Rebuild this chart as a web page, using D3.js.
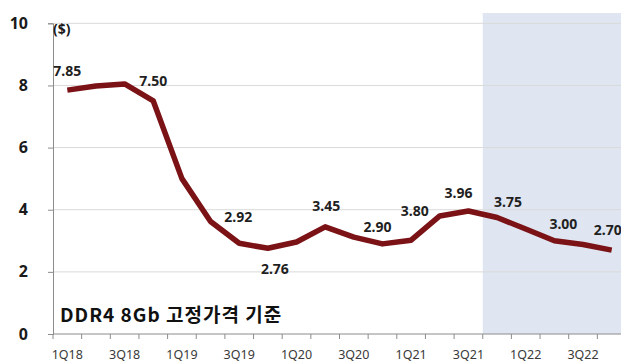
<!DOCTYPE html>
<html>
<head>
<meta charset="utf-8">
<script src="https://cdn.jsdelivr.net/npm/d3@7/dist/d3.min.js"></script>
<style>
  html, body { margin: 0; padding: 0; background: #fff; }
  svg { display: block; }
</style>
</head>
<body>
<svg id="chart" width="621" height="362"></svg>
<script>
// Quarterly DDR4 8Gb contract price, USD
const quarters = ["1Q18","2Q18","3Q18","4Q18","1Q19","2Q19","3Q19","4Q19",
                  "1Q20","2Q20","3Q20","4Q20","1Q21","2Q21","3Q21","4Q21",
                  "1Q22","2Q22","3Q22","4Q22"];
const prices = [7.85, 7.98, 8.05, 7.50, 5.00, 3.62, 2.92, 2.76,
                2.96, 3.45, 3.12, 2.90, 3.02, 3.80, 3.96, 3.75,
                3.38, 3.00, 2.88, 2.70];
// quarters whose value is printed next to the line
const labelledQuarters = ["1Q18","4Q18","3Q19","4Q19","2Q20","4Q20","2Q21","3Q21","4Q21","2Q22","4Q22"];
// forecast span
const forecastStart = "4Q21";
const yTicks = [0, 2, 4, 6, 8, 10];
const xTickLabels = ["1Q18","3Q18","1Q19","3Q19","1Q20","3Q20","1Q21","3Q21","1Q22","3Q22"];
const unitLabel = "($)";
const noteText = "DDR4 8Gb 고정가격 기준";

const svg = d3.select("#chart");
const plotLeft = 53, plotBottom = 334, plotTop = 23.3;
const bandW = 28.65;

const x = d3.scaleBand().domain(quarters).range([plotLeft, plotLeft + bandW * quarters.length]).padding(0);
const y = d3.scaleLinear().domain([0, 10]).range([plotBottom, plotTop]);
const cx = q => x(q) + x.bandwidth() / 2;

// forecast shading
svg.append("rect")
  .attr("x", x(forecastStart))
  .attr("y", 13)
  .attr("width", 621 - x(forecastStart))
  .attr("height", plotBottom - 13)
  .attr("fill", "#dfe6f1");

// horizontal gridlines
svg.append("g")
  .selectAll("line")
  .data(yTicks.filter(v => v > 0))
  .join("line")
  .attr("x1", plotLeft).attr("x2", 621)
  .attr("y1", d => y(d)).attr("y2", d => y(d))
  .attr("stroke", "#d9d9d9").attr("stroke-width", 1);

// y axis
const yAxis = svg.append("g")
  .attr("transform", `translate(${plotLeft},0)`)
  .call(d3.axisLeft(y).tickValues(yTicks).tickSize(5).tickPadding(20).tickFormat(d3.format("d")));
yAxis.select(".domain").attr("stroke", "#8c8c8c");
yAxis.selectAll(".tick line").attr("stroke", "#8c8c8c");
yAxis.selectAll(".tick text")
  .attr("font-family", "'Noto Sans', 'Liberation Sans', sans-serif")
  .attr("font-weight", "bold")
  .attr("font-size", 16)
  .attr("fill", "#1a1a1a");

// x axis: ticks at band boundaries
const xAxisG = svg.append("g").attr("transform", `translate(0,${plotBottom})`);
xAxisG.append("line")
  .attr("x1", plotLeft).attr("x2", 621)
  .attr("y1", 0).attr("y2", 0)
  .attr("stroke", "#8c8c8c");
xAxisG.selectAll("line.tk")
  .data(quarters)
  .join("line")
  .attr("class", "tk")
  .attr("x1", d => x(d)).attr("x2", d => x(d))
  .attr("y1", 0).attr("y2", 5)
  .attr("stroke", "#8c8c8c");
xAxisG.selectAll("text")
  .data(xTickLabels)
  .join("text")
  .attr("x", d => cx(d))
  .attr("y", 25)
  .attr("text-anchor", "middle")
  .attr("font-family", "'Noto Sans', 'Liberation Sans', sans-serif")
  .attr("font-size", 12.5)
  .attr("fill", "#3a3a3a")
  .text(d => d);

// unit
svg.append("text")
  .attr("x", plotLeft).attr("y", 34)
  .attr("font-family", "'Noto Sans', 'Liberation Sans', sans-serif")
  .attr("font-weight", "bold")
  .attr("font-size", 14)
  .attr("fill", "#1a1a1a")
  .text(unitLabel);

// price line
const line = d3.line().x((d, i) => cx(quarters[i])).y(d => y(d));
svg.append("path")
  .datum(prices)
  .attr("d", line)
  .attr("fill", "none")
  .attr("stroke", "#7a1216")
  .attr("stroke-width", 5.5)
  .attr("stroke-linejoin", "round")
  .attr("stroke-linecap", "butt");

// value labels, nudged off the line
const nudge = {
  "1Q18": [0, -19], "4Q18": [0, -20], "3Q19": [-1, -26], "4Q19": [7, 21],
  "2Q20": [1, -21], "4Q20": [-5, -17], "2Q21": [-25, -5], "3Q21": [-10, -18],
  "4Q21": [11, -16], "2Q22": [9, -17], "4Q22": [-4, -20]
};
svg.append("g")
  .selectAll("text")
  .data(labelledQuarters)
  .join("text")
  .attr("x", q => cx(q) + nudge[q][0])
  .attr("y", q => y(prices[quarters.indexOf(q)]) + nudge[q][1])
  .attr("dy", "0.36em")
  .attr("text-anchor", "middle")
  .attr("font-family", "'Noto Sans', 'Liberation Sans', sans-serif")
  .attr("font-weight", "bold")
  .attr("font-size", 14)
  .attr("fill", "#1f1f1f")
  .text(q => prices[quarters.indexOf(q)].toFixed(2));

// basis note
svg.append("text")
  .attr("x", 60).attr("y", 322)
  .attr("font-family", "'Noto Sans CJK KR', 'Noto Sans', sans-serif")
  .attr("font-weight", "bold")
  .attr("font-size", 19)
  .attr("letter-spacing", 1)
  .attr("fill", "#111")
  .text(noteText);
</script>
</body>
</html>
